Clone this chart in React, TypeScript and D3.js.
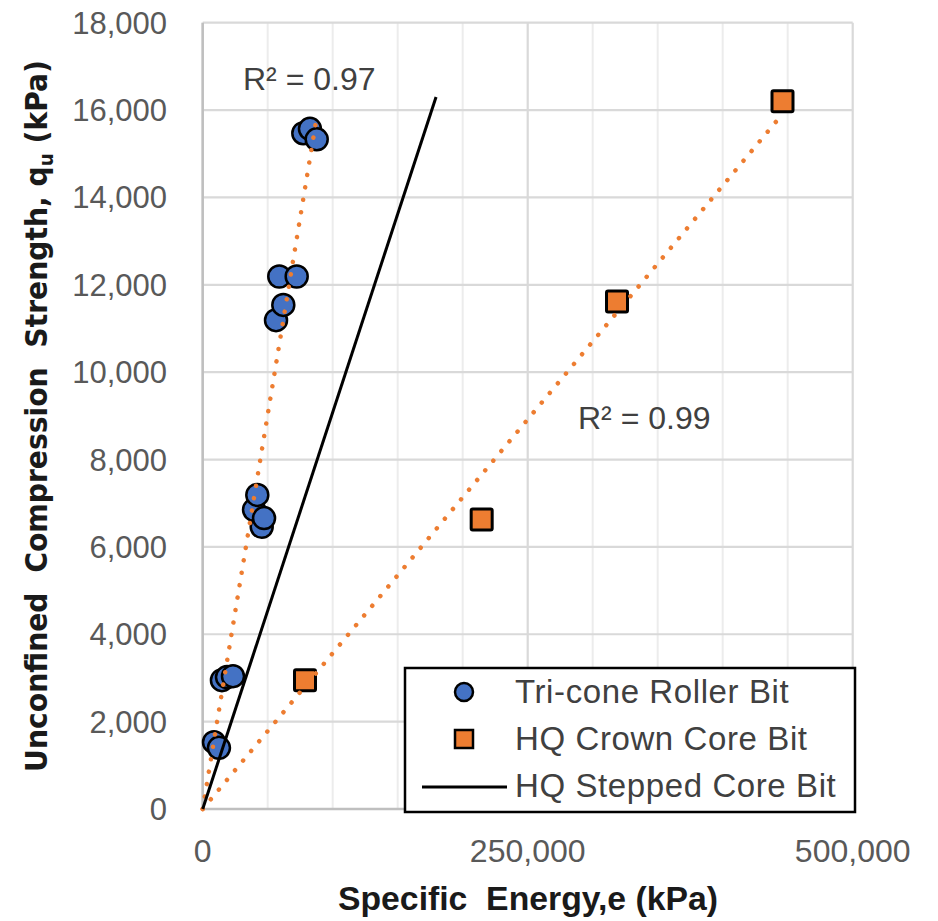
import React from "react";
import * as d3 from "d3";

// values
const triconeEnergy = [8700, 12500, 14800, 18700, 23300, 39500, 42000, 45400, 47200, 56400, 58900, 62000, 72300, 77400, 82500, 87700];
const triconeStrength = [1530, 1400, 2950, 3020, 3040, 6850, 7190, 6460, 6660, 11190, 12190, 11540, 12190, 15470, 15570, 15330];
const crownEnergy = [78700, 214600, 318700, 446000];
const crownStrength = [2950, 6630, 11620, 16200];
const steppedEnergy = [0, 179500];
const steppedStrength = [0, 16300];

const yTicks = [0, 2000, 4000, 6000, 8000, 10000, 12000, 14000, 16000, 18000];
const xTicks = [0, 250000, 500000];
const xMinorTicks = [50000, 100000, 150000, 200000, 300000, 350000, 400000, 450000];
const legendLabels = ["Tri-cone Roller Bit", "HQ Crown Core Bit", "HQ Stepped Core Bit"];
const r2Labels = ["R² = 0.97", "R² = 0.99"];

const BLUE = "#4472C4";
const ORANGE = "#ED7D31";
const FONT = "'Liberation Sans', Arial, sans-serif";

// least squares through the origin, like Excel's trendline with intercept 0
function originSlope(xs: number[], ys: number[]) {
  return d3.sum(xs, (v, i) => v * ys[i]) / d3.sum(xs, (v) => v * v);
}

export default function App() {
  const x = d3.scaleLinear().domain([0, 500000]).range([202.7, 852.7]);
  const y = d3.scaleLinear().domain([0, 18000]).range([809, 22.7]);
  const fmt = d3.format(",");
  const line = d3.line<[number, number]>().x((d) => x(d[0])).y((d) => y(d[1]));

  const kT = originSlope(triconeEnergy, triconeStrength);
  const kC = originSlope(crownEnergy, crownStrength);
  const maxT = d3.max(triconeEnergy) as number;
  const maxC = d3.max(crownEnergy) as number;
  const trendT: [number, number][] = [[0, 0], [maxT, kT * maxT]];
  const trendC: [number, number][] = [[0, 0], [maxC, kC * maxC]];
  const stepped: [number, number][] = steppedEnergy.map((v, i) => [v, steppedStrength[i]]);

  const [x0, x1] = x.range();
  const [y0, y1] = y.range();

  return (
    <svg width={938} height={921} style={{ position: "absolute", left: 0, top: 0, background: "#fff" }} fontFamily={FONT}>
      {/* grid */}
      {xMinorTicks.map((t) => (
        <line key={"vx" + t} x1={x(t)} x2={x(t)} y1={y0} y2={y1} stroke="#ececec" strokeWidth={2} />
      ))}
      {xTicks.map((t) => (
        <line key={"vX" + t} x1={x(t)} x2={x(t)} y1={y0} y2={y1} stroke="#d9d9d9" strokeWidth={2.2} />
      ))}
      {yTicks.map((t) => (
        <line key={"hy" + t} x1={x0} x2={x1} y1={y(t)} y2={y(t)} stroke="#d9d9d9" strokeWidth={2.2} />
      ))}
      <line x1={x0} x2={x0} y1={y0} y2={y1} stroke="#bfbfbf" strokeWidth={2.5} />
      <line x1={x0} x2={x1} y1={y0} y2={y0} stroke="#bfbfbf" strokeWidth={2.5} />

      {/* tick labels */}
      {yTicks.map((t) => (
        <text key={"yl" + t} x={167} y={y(t) + 11} textAnchor="end" fontSize={31} fill="#595959">
          {fmt(t)}
        </text>
      ))}
      {xTicks.map((t) => (
        <text key={"xl" + t} x={x(t)} y={862} textAnchor="middle" fontSize={32} fill="#595959">
          {fmt(t)}
        </text>
      ))}

      {/* markers */}
      {crownEnergy.map((v, i) => (
        <rect key={"c" + i} x={x(v) - 10.5} y={y(crownStrength[i]) - 10.5} width={21} height={21}
          fill={ORANGE} stroke="#000" strokeWidth={3} rx={1.5} />
      ))}
      {triconeEnergy.map((v, i) => (
        <circle key={"t" + i} cx={x(v)} cy={y(triconeStrength[i])} r={11} fill={BLUE} stroke="#000" strokeWidth={2.5} />
      ))}

      {/* trendlines and stepped bit line */}
      <path d={line(trendT) || ""} fill="none" stroke={ORANGE} strokeWidth={4.5} strokeLinecap="round" strokeDasharray="0.1 12.5" />
      <path d={line(trendC) || ""} fill="none" stroke={ORANGE} strokeWidth={4.5} strokeLinecap="round" strokeDasharray="0.1 12.5" />
      <path d={line(stepped) || ""} fill="none" stroke="#000" strokeWidth={3} />

      {/* R² labels */}
      <text x={243} y={90} fontSize={32} fill="#404040">{r2Labels[0]}</text>
      <text x={578} y={429} fontSize={32} fill="#404040">{r2Labels[1]}</text>

      {/* legend */}
      <rect x={405} y={668} width={450} height={144} fill="#fff" stroke="#000" strokeWidth={2.5} />
      <circle cx={464} cy={692} r={9} fill={BLUE} stroke="#000" strokeWidth={2.5} />
      <rect x={455} y={730} width={18} height={18} fill={ORANGE} stroke="#000" strokeWidth={2.5} />
      <line x1={422} x2={507} y1={787} y2={787} stroke="#000" strokeWidth={3} />
      {legendLabels.map((l, i) => (
        <text key={l} x={515} y={703 + i * 47} fontSize={33} fill="#404040" letterSpacing={0.6}>{l}</text>
      ))}

      {/* axis titles */}
      <text x={528} y={910} textAnchor="middle" fontSize={33} fontWeight="bold" fill="#1a1a1a"
        textLength={380} lengthAdjust="spacingAndGlyphs" style={{ whiteSpace: "pre" }}>
        {"Specific  Energy,e (kPa)"}
      </text>
      <text transform="translate(47,416) rotate(-90)" textAnchor="middle" fontSize={31} fontWeight="bold"
        fill="#1a1a1a" textLength={712} lengthAdjust="spacingAndGlyphs"
        fontFamily="'Liberation Sans Narrow', 'DejaVu Sans Condensed', sans-serif" style={{ whiteSpace: "pre" }}>
        {"Unconfined  Compression  Strength, q"}
        <tspan fontSize={20} dy={6}>u</tspan>
        <tspan dy={-6}>{" (kPa)"}</tspan>
      </text>
    </svg>
  );
}
